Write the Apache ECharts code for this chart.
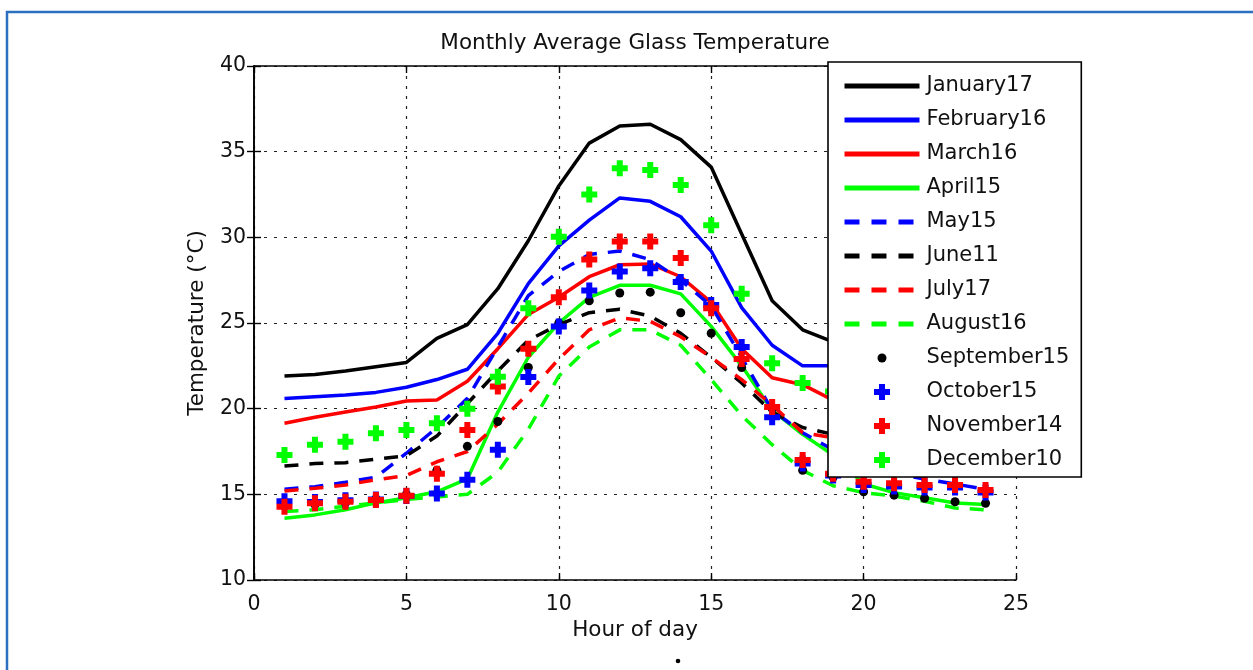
<!DOCTYPE html>
<html>
<head>
<meta charset="utf-8">
<script src="https://cdn.jsdelivr.net/npm/echarts/dist/echarts.min.js"></script>
<style>
html,body{margin:0;padding:0;background:#ffffff;}
#chart{width:1253px;height:670px;}
</style>
</head>
<body>
<div id="chart"></div>
<script>
// ---------------- data ----------------
const hours = [1,2,3,4,5,6,7,8,9,10,11,12,13,14,15,16,17,18,19,20,21,22,23,24];
const xTicks = [0, 5, 10, 15, 20, 25];
const yTicks = [10, 15, 20, 25, 30, 35, 40];

const january17  = [21.9, 22.0, 22.2, 22.45, 22.7, 24.1, 24.9, 27.0, 29.8, 33.0, 35.5, 36.5, 36.6, 35.7, 34.1, 30.2, 26.3, 24.6, 23.9, 23.4, 23.0, 22.7, 22.4, 22.2];
const february16 = [20.6, 20.7, 20.8, 20.95, 21.25, 21.7, 22.3, 24.4, 27.3, 29.5, 31.0, 32.3, 32.1, 31.2, 29.2, 25.9, 23.7, 22.5, 22.5, 22.3, 22.1, 21.8, 21.5, 21.3];
const march16    = [19.15, 19.5, 19.8, 20.1, 20.45, 20.5, 21.6, 23.5, 25.5, 26.5, 27.7, 28.4, 28.45, 27.7, 26.2, 23.5, 21.8, 21.4, 20.5, 19.8, 19.3, 18.8, 18.4, 18.0];
const april15    = [13.6, 13.8, 14.1, 14.5, 14.8, 15.15, 15.9, 19.8, 23.0, 25.0, 26.5, 27.2, 27.2, 26.7, 24.8, 22.5, 19.9, 18.5, 17.3, 15.6, 15.1, 14.8, 14.5, 14.4];
const may15      = [15.3, 15.45, 15.7, 16.0, 17.4, 18.9, 20.6, 23.6, 26.6, 28.0, 29.0, 29.2, 28.7, 27.5, 26.0, 23.0, 19.9, 18.6, 17.6, 16.6, 16.2, 15.9, 15.6, 15.3];
const june11     = [16.65, 16.8, 16.85, 17.05, 17.25, 18.4, 20.3, 22.2, 24.0, 24.9, 25.6, 25.8, 25.4, 24.4, 23.0, 21.5, 19.8, 18.9, 18.5, 17.8, 17.3, 16.9, 16.5, 16.2];
const july17     = [15.2, 15.35, 15.55, 15.85, 16.1, 16.9, 17.5, 19.1, 20.9, 22.9, 24.6, 25.3, 25.1, 24.2, 23.0, 21.7, 20.2, 18.6, 18.3, 17.8, 17.3, 16.9, 16.5, 16.2];
const august16   = [14.0, 14.1, 14.3, 14.5, 14.7, 14.85, 15.0, 16.3, 18.8, 21.9, 23.6, 24.6, 24.6, 23.7, 21.7, 19.6, 17.9, 16.4, 15.5, 15.1, 14.9, 14.6, 14.2, 14.1];
const september15 = [14.3, 14.4, 14.5, 14.75, 15.0, 16.4, 17.8, 19.25, 22.4, 25.0, 26.3, 26.75, 26.8, 25.6, 24.4, 22.4, 20.0, 16.4, 16.0, 15.15, 14.95, 14.77, 14.57, 14.48];
const october15  = [14.6, 14.55, 14.65, 14.7, 14.9, 15.05, 15.85, 17.6, 21.85, 24.8, 26.9, 28.0, 28.2, 27.4, 26.05, 23.6, 19.5, 16.8, 16.1, 15.55, 15.45, 15.4, 15.4, 15.1];
const november14 = [14.28, 14.48, 14.57, 14.67, 14.92, 16.2, 18.75, 21.3, 23.5, 26.5, 28.7, 29.75, 29.75, 28.8, 25.86, 22.9, 20.1, 17.0, 16.2, 15.74, 15.64, 15.55, 15.55, 15.25];
const december10 = [17.3, 17.9, 18.07, 18.56, 18.76, 19.15, 20.0, 21.87, 25.86, 30.04, 32.5, 34.03, 33.93, 33.06, 30.7, 26.7, 22.65, 21.5, 21.0, 20.6, 20.2, 19.8, 19.4, 19.0];

const titleText = 'Monthly Average Glass Temperature';
const xName = 'Hour of day';
const yName = 'Temperature (°C)';

// ---------------- styling ----------------
const FONT = 'DejaVu Sans';
const BLACK = '#000000', BLUE = '#0000ff', RED = '#ff0000', GREEN = '#00ff00';
const PLUS = 'path://M5,0 H11 V5 H16 V11 H11 V16 H5 V11 H0 V5 H5 Z';
const DOT_ICON = 'path://M0,0 M16,16 M8,3.5 A4.5,4.5 0 1 1 8,12.5 A4.5,4.5 0 1 1 8,3.5 Z';
const DASH = [14, 11];

const lineDefs = [
  {name: 'January17',  values: january17,  color: BLACK, dashed: false},
  {name: 'February16', values: february16, color: BLUE,  dashed: false},
  {name: 'March16',    values: march16,    color: RED,   dashed: false},
  {name: 'April15',    values: april15,    color: GREEN, dashed: false},
  {name: 'May15',      values: may15,      color: BLUE,  dashed: true},
  {name: 'June11',     values: june11,     color: BLACK, dashed: true},
  {name: 'July17',     values: july17,     color: RED,   dashed: true},
  {name: 'August16',   values: august16,   color: GREEN, dashed: true}
];
const markerDefs = [
  {name: 'September15', values: september15, color: BLACK, symbol: 'circle', size: 9},
  {name: 'October15',   values: october15,   color: BLUE,  symbol: PLUS, size: 16},
  {name: 'November14',  values: november14,  color: RED,   symbol: PLUS, size: 16},
  {name: 'December10',  values: december10,  color: GREEN, symbol: PLUS, size: 16}
];

function pairs(vals) { return hours.map((h, i) => [h, vals[i]]); }

const series = [];
lineDefs.forEach(d => {
  series.push({
    type: 'line', name: d.name, data: pairs(d.values),
    symbol: 'none', showSymbol: false, silent: true, z: 2,
    lineStyle: {color: d.color, width: 3.5, type: d.dashed ? DASH : 'solid', cap: 'butt'},
    itemStyle: {color: d.color},
    emphasis: {disabled: true}
  });
});
markerDefs.forEach(d => {
  series.push({
    type: 'scatter', name: d.name, data: pairs(d.values),
    symbol: d.symbol, symbolSize: d.size, silent: true, z: 3,
    itemStyle: {color: d.color, opacity: 1},
    emphasis: {disabled: true}
  });
});

const legendData = lineDefs.map(d => ({
  name: d.name,
  itemStyle: {opacity: 0},
  lineStyle: {width: 5, type: d.dashed ? [15, 12] : 'solid'}
})).concat(markerDefs.map(d => ({
  name: d.name,
  icon: d.symbol === 'circle' ? DOT_ICON : PLUS
})));

const gridLine = {show: true, lineStyle: {color: '#222', width: 1.2, type: [3, 7]}};
const axisLineStyle = {show: true, lineStyle: {color: '#000', width: 1.6}};
const tickStyle = {show: true, inside: true, length: 7, lineStyle: {color: '#000', width: 1.4}};

const option = {
  animation: false,
  backgroundColor: '#ffffff',
  grid: {left: 254, right: 237, top: 66, bottom: 90, containLabel: false},
  legend: {
    orient: 'vertical', left: 828, top: 62,
    padding: [12, 12, 5, 14],
    itemWidth: 75, itemHeight: 16, itemGap: 10,
    backgroundColor: '#ffffff', borderColor: '#000', borderWidth: 1.6, borderRadius: 0,
    textStyle: {fontFamily: FONT, fontSize: 21, color: '#111', lineHeight: 24, width: 140, padding: [0, 0, 0, 2]},
    selectedMode: false,
    data: legendData
  },
  xAxis: [
    {
      type: 'value', position: 'bottom',
      min: xTicks[0], max: xTicks[xTicks.length - 1], interval: xTicks[1] - xTicks[0],
      name: xName, nameLocation: 'middle', nameGap: 39,
      nameTextStyle: {fontFamily: FONT, fontSize: 21.5, color: '#111'},
      axisLine: axisLineStyle, axisTick: tickStyle,
      axisLabel: {fontFamily: FONT, fontSize: 20.5, color: '#111', margin: 14},
      splitLine: gridLine
    },
    {
      type: 'value', position: 'top',
      min: xTicks[0], max: xTicks[xTicks.length - 1], interval: xTicks[1] - xTicks[0],
      axisLine: axisLineStyle, axisTick: tickStyle,
      axisLabel: {show: false}, splitLine: {show: false}
    }
  ],
  yAxis: [
    {
      type: 'value', position: 'left',
      min: yTicks[0], max: yTicks[yTicks.length - 1], interval: yTicks[1] - yTicks[0],
      name: yName, nameLocation: 'middle', nameGap: 46, nameRotate: 90,
      nameTextStyle: {fontFamily: FONT, fontSize: 21.5, color: '#111'},
      axisLine: axisLineStyle, axisTick: tickStyle,
      axisLabel: {fontFamily: FONT, fontSize: 20.5, color: '#111', margin: 8},
      splitLine: gridLine
    },
    {
      type: 'value', position: 'right',
      min: yTicks[0], max: yTicks[yTicks.length - 1], interval: yTicks[1] - yTicks[0],
      axisLine: axisLineStyle, axisTick: tickStyle,
      axisLabel: {show: false}, splitLine: {show: false}
    }
  ],
  graphic: [
    {type: 'polyline', silent: true, z: 0,
     shape: {points: [[7, 672], [7, 12], [1260, 12]]},
     style: {fill: 'none', stroke: '#2a6fc0', lineWidth: 2.5}},
    {type: 'text', silent: true, x: 635, y: 43,
     style: {text: titleText, fontFamily: FONT, fontSize: 21.5, fill: '#111', align: 'center', verticalAlign: 'middle'}},
    {type: 'circle', silent: true, shape: {cx: 678, cy: 661, r: 2.3}, style: {fill: '#000'}}
  ],
  series: series
};

const chart = echarts.init(document.getElementById('chart'), null, {renderer: 'canvas'});
chart.setOption(option);
</script>
</body>
</html>
